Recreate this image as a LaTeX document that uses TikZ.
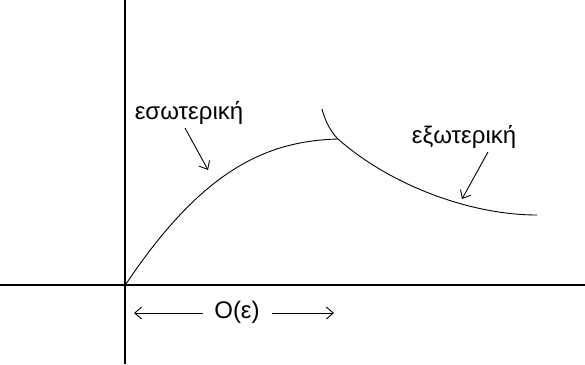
\documentclass[tikz,border=0pt]{standalone}
\usepackage{fontspec}
\setmainfont{Liberation Sans}
\usetikzlibrary{arrows.meta}
\begin{document}
\begin{tikzpicture}[x=1pt,y=-1pt,
  axis/.style={line width=1.3pt},
  curve/.style={line width=0.9pt},
  pointer/.style={line width=0.9pt,-{Straight Barb[length=7pt,width=12pt,line width=0.9pt]}},
  lbl/.style={font=\fontsize{24}{28}\selectfont,inner sep=0pt}]
\useasboundingbox[fill=white] (0,0) rectangle (585,364);
% axes
\coordinate (ytop) at (125,0);
\coordinate (ybot) at (125,364);
\coordinate (xl) at (0,285);
\coordinate (xr) at (585,285);
\draw[axis] (ytop) -- (ybot);
\draw[axis] (xl) -- (xr);
% curves
\coordinate (O) at (126,284);
\coordinate (meet) at (338,139);
\coordinate (otop) at (322,109);
\coordinate (oend) at (537,215);
\draw[curve] (O) .. controls (203,169) and (267,141) .. (meet);
\draw[curve] (otop) .. controls (326,124) and (332,133) .. (meet)
  .. controls (390,185) and (470,215) .. (oend);
% labels
\node[lbl] (inner) at (189,113) {εσωτερική};
\node[lbl] (outer) at (464,137) {εξωτερική};
\coordinate (innerstart) at (185,128);
\coordinate (innertip) at (208,170);
\coordinate (outerstart) at (488,152);
\coordinate (outertip) at (462,199);
\draw[pointer] (innerstart) -- (innertip);
\draw[pointer] (outerstart) -- (outertip);
% O(eps)
\node[lbl] (oeps) at (237,312) {O(ε)};
\coordinate (lstart) at (203,313);
\coordinate (la) at (134,313);
\coordinate (rstart) at (272,313);
\coordinate (ra) at (334,313);
\draw[pointer] (lstart) -- (la);
\draw[pointer] (rstart) -- (ra);
\end{tikzpicture}
\end{document}
